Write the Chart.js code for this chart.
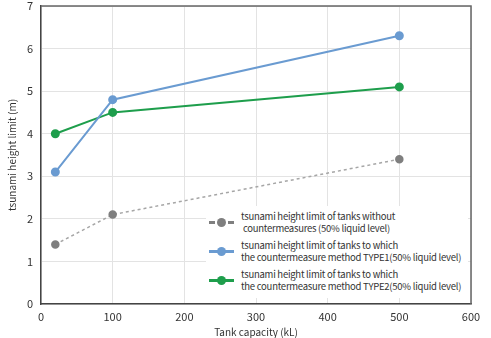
<!DOCTYPE html>
<html>
<head>
<meta charset="utf-8">
<script src="https://cdn.jsdelivr.net/npm/chart.js@4"></script>
<style>
    html, body { margin: 0; padding: 0; background: #fff; }
    #wrap { position: relative; width: 491px; height: 338px; }
    #legend {
        position: absolute; left: 206px; top: 206px; width: 262px; height: 92px;
        background: #fff; font-family: "Noto Sans CJK JP", sans-serif; font-size: 9.5px;
        letter-spacing: -0.25px; color: #333;
    }
    .lg-item { position: absolute; left: 0; display: flex; align-items: center; }
    .lg-key { position: relative; width: 30px; height: 10px; margin-right: 5px; }
    .lg-key .ln { position: absolute; left: 3px; right: 2px; top: 4px; height: 0; border-top: 3px solid; }
    .lg-key .dot { position: absolute; left: 11px; top: 1px; width: 9px; height: 9px; border-radius: 50%; }
    .lg-txt { line-height: 12px; white-space: pre; }
</style>
</head>
<body>
<div id="wrap">
    <canvas id="c" width="491" height="338"></canvas>
    <div id="legend"></div>
</div>
<script>
(function () {
    'use strict';

    // tank capacity (kL) and tsunami height limit (m)
    var capacity = [20, 100, 500];
    var noMeasure = [1.4, 2.1, 3.4];
    var type1 = [3.1, 4.8, 6.3];
    var type2 = [4.0, 4.5, 5.1];
    var seriesNames = [
        'tsunami height limit of tanks without\n countermeasures (50% liquid level)',
        'tsunami height limit of tanks to which\nthe countermeasure method TYPE1(50% liquid level)',
        'tsunami height limit of tanks to which\nthe countermeasure method TYPE2(50% liquid level)'
    ];
    var xTicks = [0, 100, 200, 300, 400, 500, 600];
    var yTicks = [0, 1, 2, 3, 4, 5, 6, 7];

    var GRAY = '#7f7f7f', BLUE = '#6a9bd1', GREEN = '#1e9e4c';
    var FONT = '"Noto Sans CJK JP", sans-serif';

    function pts(vals) {
        return vals.map(function (v, i) { return { x: capacity[i], y: v }; });
    }

    var frame = {
        id: 'frame',
        afterDraw: function (chart) {
            var a = chart.chartArea, ctx = chart.ctx;
            ctx.save();
            ctx.strokeStyle = '#666';
            ctx.lineWidth = 1.5;
            ctx.beginPath();
            ctx.moveTo(a.left, a.top);
            ctx.lineTo(a.right, a.top);
            ctx.lineTo(a.right, a.bottom);
            ctx.stroke();
            ctx.restore();
        }
    };

    new Chart(document.getElementById('c'), {
        type: 'line',
        data: {
            datasets: [
                { label: seriesNames[0], data: pts(noMeasure), borderColor: '#a6a6a6', borderWidth: 1.5,
                  borderDash: [3, 3], pointBackgroundColor: GRAY, pointBorderColor: GRAY, pointRadius: 3.5 },
                { label: seriesNames[1], data: pts(type1), borderColor: BLUE, borderWidth: 2,
                  pointBackgroundColor: BLUE, pointBorderColor: BLUE, pointRadius: 3.5 },
                { label: seriesNames[2], data: pts(type2), borderColor: GREEN, borderWidth: 2,
                  pointBackgroundColor: GREEN, pointBorderColor: GREEN, pointRadius: 3.5 }
            ]
        },
        options: {
            responsive: false,
            animation: false,
            layout: { padding: { left: 6, right: 20, top: 6, bottom: 0 } },
            plugins: { legend: { display: false }, tooltip: { enabled: false } },
            scales: {
                x: {
                    type: 'linear', min: 0, max: 600,
                    afterBuildTicks: function (s) { s.ticks = xTicks.map(function (v) { return { value: v }; }); },
                    afterFit: function (s) { s.height = 34; s.paddingLeft = 0; s.paddingRight = 0; },
                    grid: { color: '#e3e3e3', drawTicks: false },
                    border: { color: '#444', width: 1.5 },
                    ticks: { padding: 6, color: '#333', font: { family: FONT, size: 11 } },
                    title: { display: true, text: 'Tank capacity (kL)', color: '#333', padding: { top: 1, bottom: 0 },
                             font: { family: FONT, size: 10 } }
                },
                y: {
                    min: 0, max: 7,
                    afterBuildTicks: function (s) { s.ticks = yTicks.map(function (v) { return { value: v }; }); },
                    afterFit: function (s) { s.width = 35; s.paddingTop = 0; s.paddingBottom = 0; },
                    grid: { color: '#e3e3e3', drawTicks: false },
                    border: { color: '#444', width: 1.5 },
                    ticks: { padding: 8, color: '#333', font: { family: FONT, size: 11 } },
                    title: { display: true, text: 'tsunami height limit (m)', color: '#333', padding: 0,
                             font: { family: FONT, size: 10 } }
                }
            }
        },
        plugins: [frame]
    });

    // legend overlay
    var legend = document.getElementById('legend');
    var keys = [
        { color: GRAY, dash: true, top: 4 },
        { color: BLUE, dash: false, top: 33 },
        { color: GREEN, dash: false, top: 62 }
    ];
    keys.forEach(function (k, i) {
        var item = document.createElement('div');
        item.className = 'lg-item';
        item.style.top = k.top + 'px';
        var ln = '<span class="ln" style="border-top-color:' + k.color + ';' +
            (k.dash ? 'border-top-style:dashed;' : '') + '"></span>';
        item.innerHTML = '<span class="lg-key">' + ln +
            '<span class="dot" style="background:' + k.color + '"></span></span>' +
            '<span class="lg-txt"></span>';
        item.querySelector('.lg-txt').textContent = seriesNames[i];
        legend.appendChild(item);
    });
})();
</script>
</body>
</html>
